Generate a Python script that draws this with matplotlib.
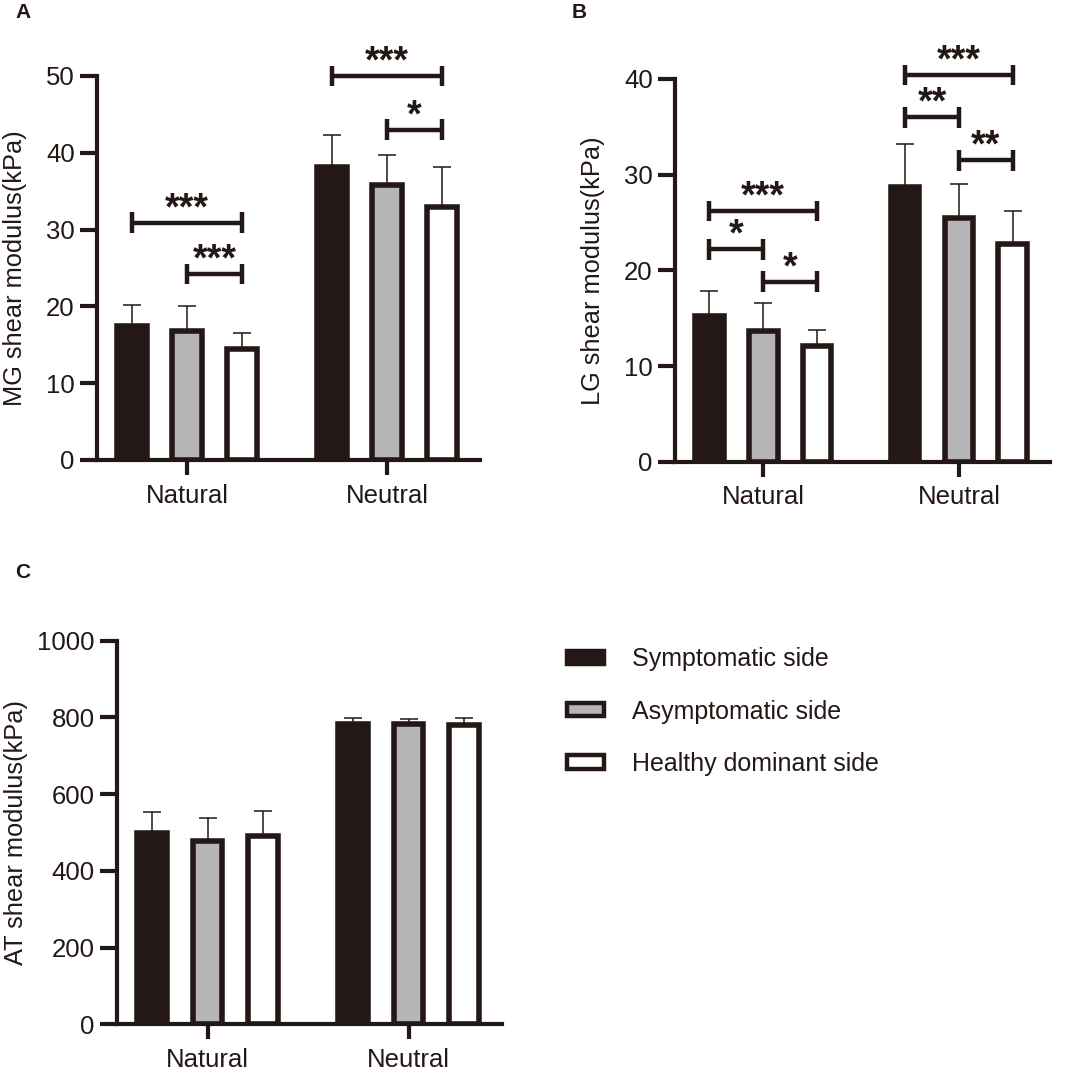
import matplotlib.pyplot as plt
from matplotlib.patches import Patch

plt.rcParams['font.family'] = ['Liberation Sans', 'DejaVu Sans']

# ---- data (mean, SD) ; rows = side, cols = position
positions = ["Natural", "Neutral"]
sides = ["Symptomatic side", "Asymptomatic side", "Healthy dominant side"]

mg_mean = [[17.5, 38.2], [16.8, 35.8], [14.4, 33.0]]
mg_sd = [[2.7, 4.1], [3.3, 3.9], [2.1, 5.1]]

lg_mean = [[15.2, 28.7], [13.7, 25.5], [12.1, 22.8]]
lg_sd = [[2.6, 4.5], [2.85, 3.5], [1.7, 3.4]]

at_mean = [[499, 784], [478, 782], [492, 779]]
at_sd = [[54, 14], [59, 14], [65, 20]]

# significance brackets: (position, bar i, bar j, height, label)
mg_sig = [(0, 0, 2, 30.9, "***"), (0, 1, 2, 24.2, "***"),
          (1, 0, 2, 50.0, "***"), (1, 1, 2, 43.0, "*")]
lg_sig = [(0, 0, 2, 26.2, "***"), (0, 0, 1, 22.2, "*"), (0, 1, 2, 18.8, "*"),
          (1, 0, 2, 40.4, "***"), (1, 0, 1, 36.0, "**"), (1, 1, 2, 31.5, "**")]
at_sig = []

# -------------------------- #

dark = '#231815'
fills = [dark, '#b5b5b7', 'white']
offsets = [-0.275, 0.0, 0.275]
bar_w = 0.147


def draw_panel(ax, means, sds, sig, ymax, ystep, ylabel, label_x):
    for k in range(3):
        xs = [p + offsets[k] for p in range(len(positions))]
        ax.errorbar(xs, means[k], yerr=[[0] * len(sds[k]), sds[k]], fmt='none',
                    ecolor=dark, elinewidth=1.1, capsize=6.5, capthick=1.1, zorder=1)
        ax.bar(xs, means[k], width=bar_w, color=fills[k], edgecolor=dark,
               linewidth=4, zorder=2)

    dy = 0.027 * ymax
    for pos, i, j, y, txt in sig:
        x1 = pos + offsets[i]
        x2 = pos + offsets[j]
        ax.plot([x1, x2], [y, y], color=dark, lw=3.2, clip_on=False,
                solid_capstyle='butt')
        for xx in (x1, x2):
            ax.plot([xx, xx], [y - dy, y + dy], color=dark, lw=3.2,
                    clip_on=False, solid_capstyle='butt')
        ax.annotate(txt, xy=((x1 + x2) / 2, y), xytext=(0, 2.5),
                    textcoords='offset points', ha='center', va='baseline',
                    fontsize=27, fontweight='bold', color=dark,
                    annotation_clip=False)

    ax.set_xlim(-0.45, 1.465)
    ax.set_ylim(0, ymax)
    ax.set_yticks(range(0, ymax + 1, ystep))
    ax.set_xticks(range(len(positions)))
    ax.set_xticklabels(positions)
    ax.set_ylabel(ylabel, fontsize=18.3, color=dark)
    ax.yaxis.set_label_coords(label_x, 0.5)
    for s in ('top', 'right'):
        ax.spines[s].set_visible(False)
    for s in ('left', 'bottom'):
        ax.spines[s].set_linewidth(3)
        ax.spines[s].set_color(dark)
    ax.tick_params(axis='y', length=12, width=3, color=dark, labelsize=18.5,
                   labelcolor=dark, pad=4)
    ax.tick_params(axis='x', length=11, width=3, color=dark, labelsize=18.5,
                   labelcolor=dark, pad=6)


fig = plt.figure(figsize=(10.65, 10.70), dpi=100)
ax_a = fig.add_axes([0.0911, 0.5701, 0.3596, 0.3589])
ax_b = fig.add_axes([0.6338, 0.5685, 0.3521, 0.3577])
ax_c = fig.add_axes([0.1099, 0.0427, 0.3615, 0.3585])

draw_panel(ax_a, mg_mean, mg_sd, mg_sig, 50, 10, "MG shear modulus(kPa)", -0.182)
draw_panel(ax_b, lg_mean, lg_sd, lg_sig, 40, 10, "LG shear modulus(kPa)", -0.187)
draw_panel(ax_c, at_mean, at_sd, at_sig, 1000, 200, "AT shear modulus(kPa)", -0.23)

for letter, x, y in [("A", 15, 3), ("B", 572, 3), ("C", 15, 563)]:
    fig.text(x / 1065, 1 - y / 1070, letter, ha='left', va='top',
             fontsize=15, fontweight='bold', color=dark)

handles = [Patch(facecolor=f, edgecolor=dark, linewidth=3.2) for f in fills]
fig.legend(handles, sides, loc='upper left', bbox_to_anchor=(0.5325, 0.395),
           frameon=False, fontsize=18, handlelength=1.46, handleheight=0.46,
           handletextpad=1.14, labelspacing=1.13, borderpad=0, borderaxespad=0,
           labelcolor=dark)

fig.savefig("out.png", dpi=100)
